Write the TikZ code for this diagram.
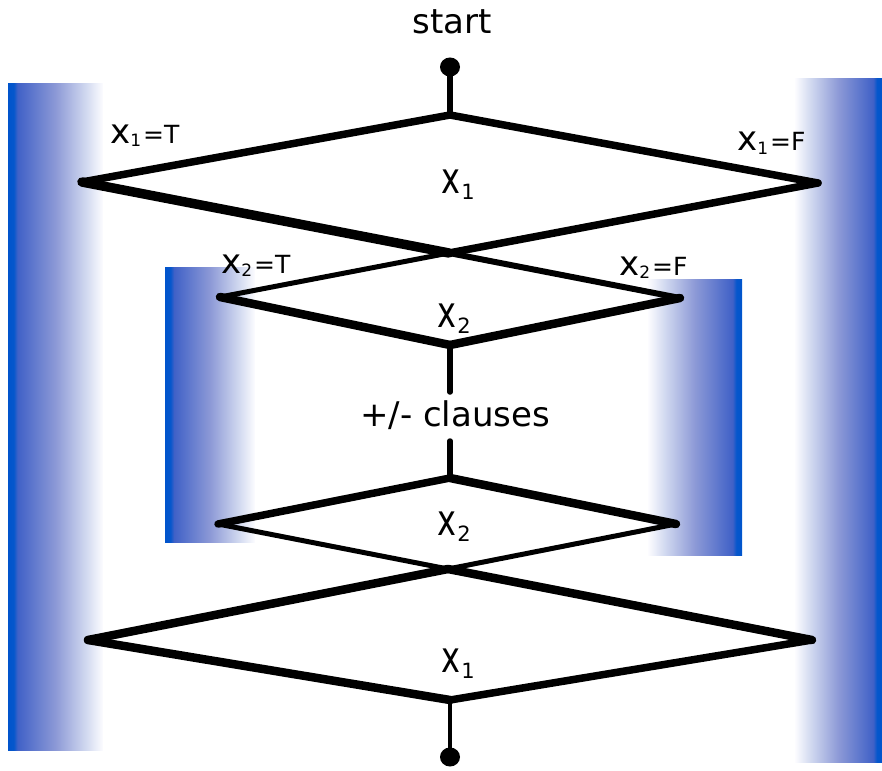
\documentclass[tikz,border=0pt]{standalone}
\usepackage{fontspec}
\setmainfont{DejaVu Sans}
\usetikzlibrary{shapes.geometric}
\pgfdeclarehorizontalshading{barfade}{100bp}{rgb(0bp)=(0,0.33,0.8); rgb(25bp)=(0,0.33,0.8); rgb(28bp)=(0.02,0.34,0.8); rgb(30bp)=(0.25,0.38,0.78); rgb(50bp)=(0.55,0.6,0.84); rgb(66bp)=(0.82,0.85,0.94); rgb(75bp)=(0.99,0.99,1); rgb(100bp)=(1,1,1)}
\newcommand{\varlbl}[2]{{\fontsize{34}{34}\selectfont x}\raisebox{-3pt}{\fontsize{17}{17}\selectfont #1}\hspace{2pt}{\fontsize{25}{25}\selectfont =#2}}
\newcommand{\dvar}[1]{\scalebox{1}[1.35]{\fontsize{32}{32}\selectfont x}\hspace{1pt}\raisebox{-6pt}{\fontsize{21}{21}\selectfont #1}}
\begin{document}
\begin{tikzpicture}[x=1pt,y=-1pt,line cap=round,line join=round,
  barL/.style={shading=barfade},
  barR/.style={shading=barfade,shading angle=180},
  seg/.style={draw=black,line width=#1},
  enddot/.style={ellipse,fill=black,inner sep=0pt,minimum width=20pt,minimum height=19pt},
  lbl/.style={anchor=base west,inner sep=0pt},
  dlbl/.style={anchor=center,inner sep=0pt},
  big/.style={font=\fontsize{34}{40}\selectfont,inner sep=0pt}]
\useasboundingbox (0,0) rectangle (882,770);
% gradient bars
\shade[barL] (8,84) rectangle (103,750);
\shade[barR] (795,79) rectangle (882,762);
\shade[barL] (165,267) rectangle (255,542);
\shade[barR] (648,279) rectangle (742,555);
% vertices
\coordinate (T1) at (450,115);
\coordinate (L1) at (82,182);
\coordinate (R1) at (818,183);
\coordinate (C1) at (449,253);
\coordinate (L2) at (220,297);
\coordinate (R2) at (680,298);
\coordinate (B2) at (450,345);
\coordinate (T3) at (450,478);
\coordinate (L3) at (218,524);
\coordinate (R3) at (676,524);
\coordinate (C2) at (448,569);
\coordinate (L4) at (88,640);
\coordinate (R4) at (812,640);
\coordinate (B4) at (450,700);
% texts
\node[big] (start) at (452,22) {start};
\node[big] (clauses) at (455,415) {+/- clauses};
\node[enddot] (sdot) at (450,67) {};
\node[enddot] (edot) at (450,757) {};
\node[dlbl] (x1a) at (458,185) {\dvar{1}};
\node[dlbl] (x2a) at (454,319) {\dvar{2}};
\node[dlbl] (x2b) at (454,527) {\dvar{2}};
\node[dlbl] (x1b) at (458,664) {\dvar{1}};
\node[lbl] (l1t) at (110,143) {\varlbl{1}{T}};
\node[lbl] (l1f) at (737,151) {\varlbl{1}{F}};
\node[lbl] (l2t) at (221,273) {\varlbl{2}{T}};
\node[lbl] (l2f) at (619,275) {\varlbl{2}{F}};
% connectors
\coordinate (cTop) at (450,392);
\coordinate (cBot) at (450,441);
\draw[seg=6] (sdot.center) -- (T1);
\draw[seg=7.5] (T1) -- (L1);
\draw[seg=7.5] (T1) -- (R1);
\draw[seg=9.5] (L1) -- (C1);
\draw[seg=6] (C1) -- (R2);
\draw[seg=7.5] (R1) -- (C1);
\draw[seg=5] (C1) -- (L2);
\draw[seg=8.5] (L2) -- (B2);
\draw[seg=8.5] (R2) -- (B2);
\draw[seg=5.5] (B2) -- (cTop);
\draw[seg=5.5] (cBot) -- (T3);
\draw[seg=7.5] (T3) -- (L3);
\draw[seg=8.5] (T3) -- (R3);
\draw[seg=5] (L3) -- (C2);
\draw[seg=8.5] (C2) -- (R4);
\draw[seg=5] (R3) -- (C2);
\draw[seg=8.5] (C2) -- (L4);
\draw[seg=8.5] (L4) -- (B4);
\draw[seg=7.5] (R4) -- (B4);
\draw[seg=4.5] (B4) -- (edot.center);
\end{tikzpicture}
\end{document}
